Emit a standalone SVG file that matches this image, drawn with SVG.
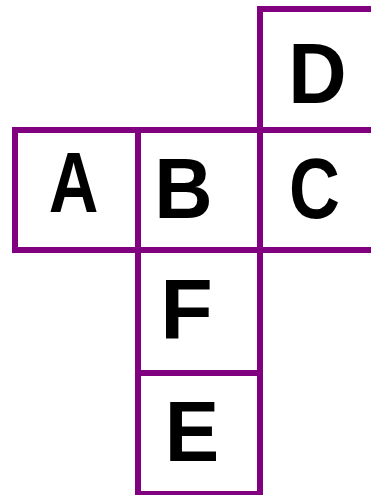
<svg xmlns="http://www.w3.org/2000/svg" width="371" height="495" viewBox="0 0 371 495">
<style>
.sq{fill:#fff;stroke:#800080;stroke-width:6}
.lb{font-family:"Liberation Sans",Arial,sans-serif;font-weight:bold;font-size:86px;fill:#000;text-anchor:middle}
</style>
<rect x="0" y="0" width="371" height="495" fill="#fff"/>
<g id="connectors"></g>
<g id="A"><rect class="sq" x="15" y="130" width="123" height="120"/><text class="lb" transform="translate(73.5,212) scale(0.8,1)">A</text></g>
<g id="B"><rect class="sq" x="138" y="130" width="122" height="120"/><text class="lb" transform="translate(183.5,218) scale(0.94,1)">B</text></g>
<g id="C"><rect class="sq" x="260" y="130" width="122" height="120"/><text class="lb" transform="translate(314.5,218) scale(0.82,1)">C</text></g>
<g id="D"><rect class="sq" x="260" y="9" width="122" height="121"/><text class="lb" transform="translate(317.5,103) scale(0.94,1)">D</text></g>
<g id="F"><rect class="sq" x="138" y="250" width="122" height="123"/><text class="lb" x="186.5" y="339">F</text></g>
<g id="E"><rect class="sq" x="138" y="373" width="122" height="121"/><text class="lb" transform="translate(192,461) scale(0.95,1)">E</text></g>
</svg>
